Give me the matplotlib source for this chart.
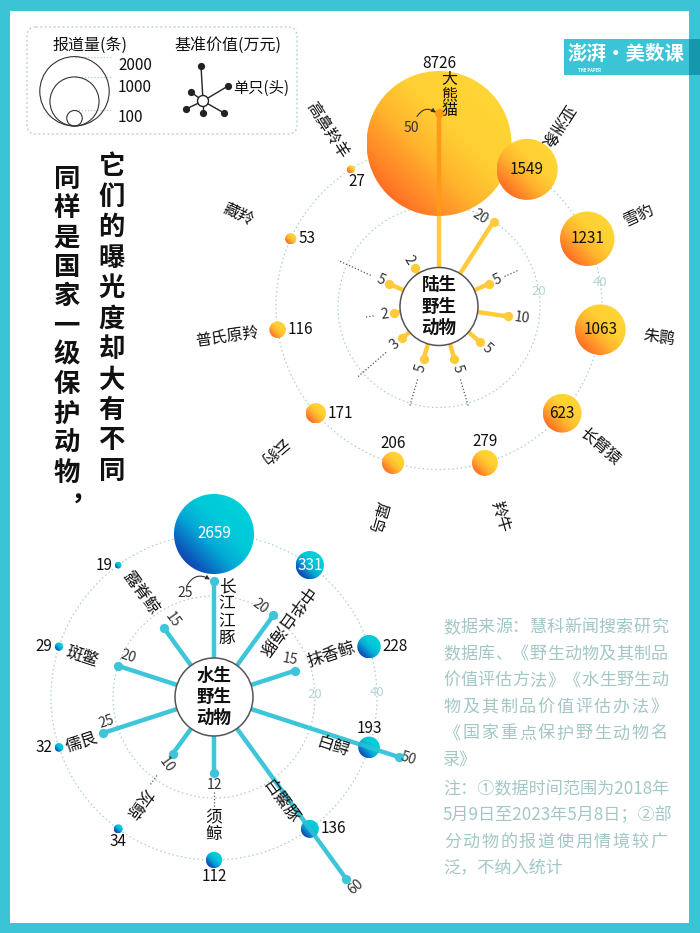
import numpy as np
import matplotlib
matplotlib.use('Agg')
import matplotlib.pyplot as plt
from matplotlib.patches import Circle, Rectangle, FancyBboxPatch, FancyArrowPatch
from matplotlib.colors import LinearSegmentedColormap

plt.rcParams['font.family'] = ['Noto Sans CJK SC', 'DejaVu Sans']

# ---------------- data ----------------
land_names = ['大熊猫', '亚洲象', '雪豹', '朱鹮', '长臂猿', '羚牛', '犀鸟', '云豹', '普氏原羚', '藏羚', '高鼻羚羊']
land_reports = [8726, 1549, 1231, 1063, 623, 279, 206, 171, 116, 53, 27]
land_values = [50, 20, 5, 10, 5, 5, 5, 3, 2, 5, 2]

water_names = ['长江江豚', '中华白海豚', '抹香鲸', '白鲟', '白鱀豚', '须鲸', '灰鲸', '儒艮', '斑鳖', '露脊鲸']
water_reports = [2659, 331, 228, 193, 136, 112, 34, 32, 29, 19]
water_values = [25, 20, 15, 50, 60, 12, 10, 25, 20, 15]

legend_reports = [2000, 1000, 100]
ring_values = [20, 40]

title_right = '它们的曝光度却大有不同'
title_left = '同样是国家一级保护动物，'
source_lines = ['数据来源：慧科新闻搜索研究', '数据库、《野生动物及其制品', '价值评估方法》《水生野生动',
                '物及其制品价值评估办法》', '《国家重点保护野生动物名', '录》']
note_lines = ['注：①数据时间范围为2018年', '5月9日至2023年5月8日；②部', '分动物的报道使用情境较广', '泛，不纳入统计']

# ---------------- layout / style ----------------
W, H = 700, 933
LAND_C = (439.0, 306.5)
WATER_C = (214.0, 697.0)
HUB_R = 39.0
PX_PER_VALUE = 3.1
BUBBLE_K = 0.776
BUBBLE_RING = 40
TEAL = '#3bc4d6'
RING_COL = '#a9cfd0'
VAL_COL = '#333333'
LAND_SPOKE = '#ffcb3b'
WATER_SPOKE = '#3fc5d9'
land_cmap = LinearSegmentedColormap.from_list(
    'land', [(0, '#ff4a1f'), (0.2, '#ff7d26'), (0.42, '#ffb52e'), (0.6, '#ffcf33'), (1, '#ffd935')])
water_cmap = LinearSegmentedColormap.from_list(
    'water', [(0, '#1a2a94'), (0.2, '#0d58bd'), (0.42, '#03acd5'), (0.6, '#00c8d8'), (1, '#00d6da')])


def r_val(v):
    return HUB_R + PX_PER_VALUE * v


def r_bub(n):
    return BUBBLE_K * np.sqrt(n)


def pol(c, r, a):
    t = np.radians(a)
    return c[0] + r * np.cos(t), c[1] - r * np.sin(t)


fig = plt.figure(figsize=(7, 9.33), dpi=100)
fig.patch.set_facecolor(TEAL)
ax = fig.add_axes([0, 0, 1, 1])
ax.axis('off')
ax.add_patch(Rectangle((10, 11), 679, 912, facecolor='white', edgecolor='none', zorder=0))

N = 80
yy, xx = np.mgrid[0:N, 0:N] / (N - 1)
GRAD = (xx + (1 - yy)) / 2.0


def gradient_bubble(x, y, r, cmap, z=3):
    im = ax.imshow(GRAD, cmap=cmap, vmin=0, vmax=1, extent=(x - r, x + r, y + r, y - r), origin='upper',
                   zorder=z, interpolation='bilinear', aspect='auto')
    im.set_clip_path(Circle((x, y), r, transform=ax.transData))


def chart_base(c, reports, values, cmap, spoke_col, ov_col, ov_alpha):
    n = len(values)
    angs = [90 - i * 360.0 / n for i in range(n)]
    for rv in ring_values:
        ax.add_patch(Circle(c, r_val(rv), fill=False, ec=RING_COL, lw=0.9, ls=(0, (1.2, 2.2)), zorder=1))
    ends, bubs = [], []
    for a, v in zip(angs, values):
        x1, y1 = pol(c, HUB_R, a)
        x2, y2 = pol(c, r_val(v), a)
        ax.plot([x1, x2], [y1, y2], color=spoke_col, lw=3.2, solid_capstyle='butt', zorder=2)
        ax.plot([x2], [y2], 'o', ms=6.7, color=spoke_col, mec='none', zorder=2.5)
        ends.append((x2, y2))
    for i, (a, nrep) in enumerate(zip(angs, reports)):
        bx, by = pol(c, r_val(BUBBLE_RING), a)
        br = r_bub(nrep)
        gradient_bubble(bx, by, br, cmap)
        x1, y1 = pol(c, HUB_R, a)
        x2, y2 = ends[i]
        ln, = ax.plot([x1, x2], [y1, y2], color=ov_col, alpha=ov_alpha, lw=3.2, solid_capstyle='butt', zorder=4)
        ln.set_clip_path(Circle((bx, by), br, transform=ax.transData))
        dt, = ax.plot([x2], [y2], 'o', ms=6.7, color=ov_col, alpha=ov_alpha, mec='none', zorder=4)
        dt.set_clip_path(Circle((bx, by), br, transform=ax.transData))
        bubs.append((bx, by, br))
    ax.add_patch(Circle(c, HUB_R, fc='white', ec='#555555', lw=1.1, zorder=5))
    return angs, ends, bubs


def hub_text(c, lines):
    for k, s in enumerate(lines):
        ax.text(c[0], c[1] + (k - 1) * 21, s, ha='center', va='center', fontsize=12.6,
                fontweight='bold', color='#111111', zorder=10)


def num_label(b, txt, pos, color='#111111'):
    bx, by, br = b
    kw = dict(fontsize=11, color=color, zorder=10)
    if pos == 'in':
        ax.text(bx, by, txt, ha='center', va='center', **kw)
    elif pos == 'top':
        ax.text(bx, by - br - 8, txt, ha='center', va='center', **kw)
    elif pos == 'bottom':
        ax.text(bx, by + br + 8, txt, ha='center', va='center', **kw)
    elif pos == 'right':
        ax.text(bx + br + 2, by, txt, ha='left', va='center', **kw)
    elif pos == 'left':
        ax.text(bx - br - 2, by, txt, ha='right', va='center', **kw)
    elif pos == 'below_right':
        ax.text(bx + 6, by + 12.5, txt, ha='center', va='center', **kw)


def vtext(x, y0, step, s, **kw):
    for k, ch in enumerate(s):
        ax.text(x, y0 + k * step, ch, ha='center', va='center', **kw)


def curved_arrow(p0, p1):
    ax.add_patch(FancyArrowPatch(p0, p1, connectionstyle='arc3,rad=-0.5', arrowstyle='-|>',
                                 mutation_scale=6, lw=0.8, color='#333333', zorder=10, shrinkA=0, shrinkB=0))


def dotted_ext(c, a, r0, r1):
    x0, y0 = pol(c, r0, a)
    x1, y1 = pol(c, r1, a)
    ax.plot([x0, x1], [y0, y1], color='#555555', lw=0.9, ls=(0, (1, 1.6)), zorder=2)


# ================= land chart =================
angs, ends, bubs = chart_base(LAND_C, land_reports, land_values, land_cmap, LAND_SPOKE, '#ff9a18', 1.0)
hub_text(LAND_C, ['陆生', '野生', '动物'])

for k, rv in enumerate(ring_values):
    tx, ty = pol(LAND_C, r_val(rv), 8.5)
    ax.text(tx, ty, str(rv), ha='center', va='center', fontsize=9.5, color='#b3d4d4', zorder=6)

LAND_EXT = {2: (72, 88), 5: (76, 105), 6: (76, 105), 7: (70, 107), 8: (66, 75), 9: (75, 111)}
for i, (r0, r1) in LAND_EXT.items():
    dotted_ext(LAND_C, angs[i], r0, r1)

LAND_NUM_POS = ['top', 'in', 'in', 'in', 'in', 'top', 'top', 'right', 'right', 'right', 'below_right']
for b, n, p in zip(bubs, land_reports, LAND_NUM_POS):
    num_label(b, str(n), p)

LAND_LABEL_MODE = ['v', 'in', 'out', 'out', 'out', 'out', 'out', 'out', 'in', 'in', 'in']
LAND_LABEL_R = [None, 216, 220, 222, 213, 219, 219, 219, 214, 221, 209]
for i, (name, a) in enumerate(zip(land_names, angs)):
    mode = LAND_LABEL_MODE[i]
    if mode == 'v':
        bx, by, br = bubs[i]
        vtext(bx + 10, by - br + 8.5, 15.5, name, fontsize=11.5, color='#111111', zorder=10)
        continue
    tx, ty = pol(LAND_C, LAND_LABEL_R[i], a)
    rot = a if mode == 'out' else a - 180
    ax.text(tx, ty, name, rotation=rot, rotation_mode='anchor', ha='center', va='center',
            fontsize=11.5, color='#111111', zorder=10)

for i, (a, v) in enumerate(zip(angs, land_values)):
    x2, y2 = ends[i]
    kw = dict(fontsize=10, color=VAL_COL, zorder=10)
    if i == 0:
        ax.text(x2 - 28, y2 + 15, str(v), ha='center', va='center', **kw)
        curved_arrow((x2 - 22, y2 + 4), (x2 - 3, y2))
    elif i == 1:
        ax.text(x2 - 13, y2 - 5, str(v), rotation=a - 90, ha='center', va='center', **kw)
    else:
        right = np.cos(np.radians(a)) >= 0
        rot = a if right else a - 180
        tx, ty = pol(LAND_C, r_val(v) + 6, a)
        ax.text(tx, ty, str(v), rotation=rot, rotation_mode='anchor', ha='left' if right else 'right',
                va='center', **kw)

# ================= water chart =================
angs, ends, bubs = chart_base(WATER_C, water_reports, water_values, water_cmap, WATER_SPOKE, WATER_SPOKE, 0.6)
hub_text(WATER_C, ['水生', '野生', '动物'])

for k, rv in enumerate(ring_values):
    tx, ty = pol(WATER_C, r_val(rv), 1.5)
    ax.text(tx, ty, str(rv), ha='center', va='center', fontsize=9.5, color='#b3d4d4', zorder=6)

WATER_EXT = {5: (95, 111), 6: (97, 110)}
for i, (r0, r1) in WATER_EXT.items():
    dotted_ext(WATER_C, angs[i], r0, r1)

WATER_NUM_POS = ['in', 'in', 'right', 'top', 'right', 'bottom', 'bottom', 'left', 'left', 'left']
for i, (b, n, p) in enumerate(zip(bubs, water_reports, WATER_NUM_POS)):
    num_label(b, str(n), p, color='white' if p == 'in' else '#111111')

WATER_LABEL_MODE = ['v', 'in', 'out', 'out', 'out', 'v', 'out', 'in', 'in', 'in']
WATER_LABEL_R = [None, 103, 125, 129, 125, None, 130, 140, 138, 128]
WATER_LABEL_DA = [0, -6.6, 1.6, -4.8, -4.1, 0, 0.4, 0.7, 1.0, -0.6]
for i, (name, a) in enumerate(zip(water_names, angs)):
    mode = WATER_LABEL_MODE[i]
    if mode == 'v':
        if i == 0:
            bx, by, br = bubs[i]
            vtext(bx + 13, by + br + 12.7, 17.2, name, fontsize=12, color='#111111', zorder=10)
        else:
            vtext(WATER_C[0], WATER_C[1] + 121, 17, name, fontsize=12, color='#111111', zorder=10)
        continue
    tx, ty = pol(WATER_C, WATER_LABEL_R[i], a + WATER_LABEL_DA[i])
    rot = a if mode == 'out' else a - 180
    ax.text(tx, ty, name, rotation=rot, rotation_mode='anchor', ha='center', va='center',
            fontsize=12, color='#111111', zorder=10)

WATER_VAL_OFF = [(-29, 12.5), (-13, -9), (-5, -11), (10, 2), (9, 8), (0, 12), (-6, 11), (3, -11), (10, -9), (9, -8)]
WATER_VAL_ROT = [0, -36, -10, -18, 40, 0, -54, 18, -18, -54]
for i, v in enumerate(water_values):
    x2, y2 = ends[i]
    dx, dy = WATER_VAL_OFF[i]
    ax.text(x2 + dx, y2 + dy, str(v), rotation=WATER_VAL_ROT[i], ha='center', va='center',
            fontsize=10, color=VAL_COL, zorder=10)
    if i == 0:
        curved_arrow((x2 - 27, y2 + 5), (x2 - 4, y2 - 1))

# ================= legend =================
ax.add_patch(FancyBboxPatch((27, 27), 270, 107, boxstyle='round,pad=0,rounding_size=9', fill=False,
                            ec=RING_COL, lw=1, ls=(0, (1.2, 2)), zorder=1))
ax.text(90, 45, '报道量(条)', ha='center', va='center', fontsize=11.5, color='#111111', zorder=10)
ax.text(228, 45, '基准价值(万元)', ha='center', va='center', fontsize=11.5, color='#111111', zorder=10)
LEG_X, LEG_BOTTOM = 74.5, 126
for n, ly in zip(legend_reports, [65, 87, 117]):
    r = r_bub(n)
    ax.add_patch(Circle((LEG_X, LEG_BOTTOM - r), r, fill=False, ec='#333333', lw=0.8, zorder=3))
    ax.plot([LEG_X, 112], [LEG_BOTTOM - 2 * r, LEG_BOTTOM - 2 * r], color=RING_COL, lw=0.9,
            ls=(0, (1, 1.5)), zorder=2)
    ax.text(118, ly, str(n), ha='left', va='center', fontsize=11, color='#111111', zorder=10)

ICON_C = (203, 101)
for ex, ey in [(201, 66), (228, 86), (191, 92), (186, 109), (203, 113), (224, 113)]:
    ax.plot([ICON_C[0], ex], [ICON_C[1], ey], color='#222222', lw=1, zorder=3)
    ax.plot([ex], [ey], 'o', ms=4.2, color='#222222', zorder=3)
ax.add_patch(Circle(ICON_C, 5.5, fc='white', ec='#222222', lw=1, zorder=4))
ax.text(233, 88, '单只(头)', ha='left', va='center', fontsize=11, color='#111111', zorder=10)

# ================= title =================
vtext(111.7, 167, 30.4, title_right, fontsize=19, fontweight='bold', color='#111111', zorder=10)
vtext(66.7, 179, 29.4, title_left[:-1], fontsize=19, fontweight='bold', color='#111111', zorder=10)
ax.text(84, 493, title_left[-1], ha='center', va='center', fontsize=19, fontweight='bold', color='#111111', zorder=10)

# ================= logo =================
ax.add_patch(Rectangle((564, 39), 126, 36, facecolor=TEAL, edgecolor='none', zorder=6))
ax.add_patch(Rectangle((689, 39), 11, 36, facecolor='#1597ad', edgecolor='none', zorder=6))
ax.text(626, 55, '澎湃·美数课', ha='center', va='center', fontsize=14, fontweight='bold', color='white', zorder=10)
ax.text(590, 70.5, 'THE PAPER', ha='center', va='center', fontsize=3, fontweight='bold', color='white', zorder=10)

# ================= source =================
SRC_COL = '#a3c6c6'
SRC_FS = 12.3
X0, X1 = 443, 668


def src_line(s, y, justify):
    if justify and not any(ch.isdigit() for ch in s):
        step = (X1 - X0) / len(s)
        for k, ch in enumerate(s):
            ax.text(X0 + step * (k + 0.5), y, ch, ha='center', va='center', fontsize=SRC_FS, color=SRC_COL, zorder=10)
    else:
        ax.text(X0, y, s, ha='left', va='center', fontsize=SRC_FS, color=SRC_COL, zorder=10)


for k, s in enumerate(source_lines):
    src_line(s, 627 + k * 26.6, k < len(source_lines) - 1)
for k, s in enumerate(note_lines):
    src_line(s, 789 + k * 26.4, k < len(note_lines) - 1)

ax.set_xlim(0, W)
ax.set_ylim(H, 0)
ax.set_aspect('auto')
fig.savefig('out.png', dpi=100, facecolor=fig.get_facecolor())
